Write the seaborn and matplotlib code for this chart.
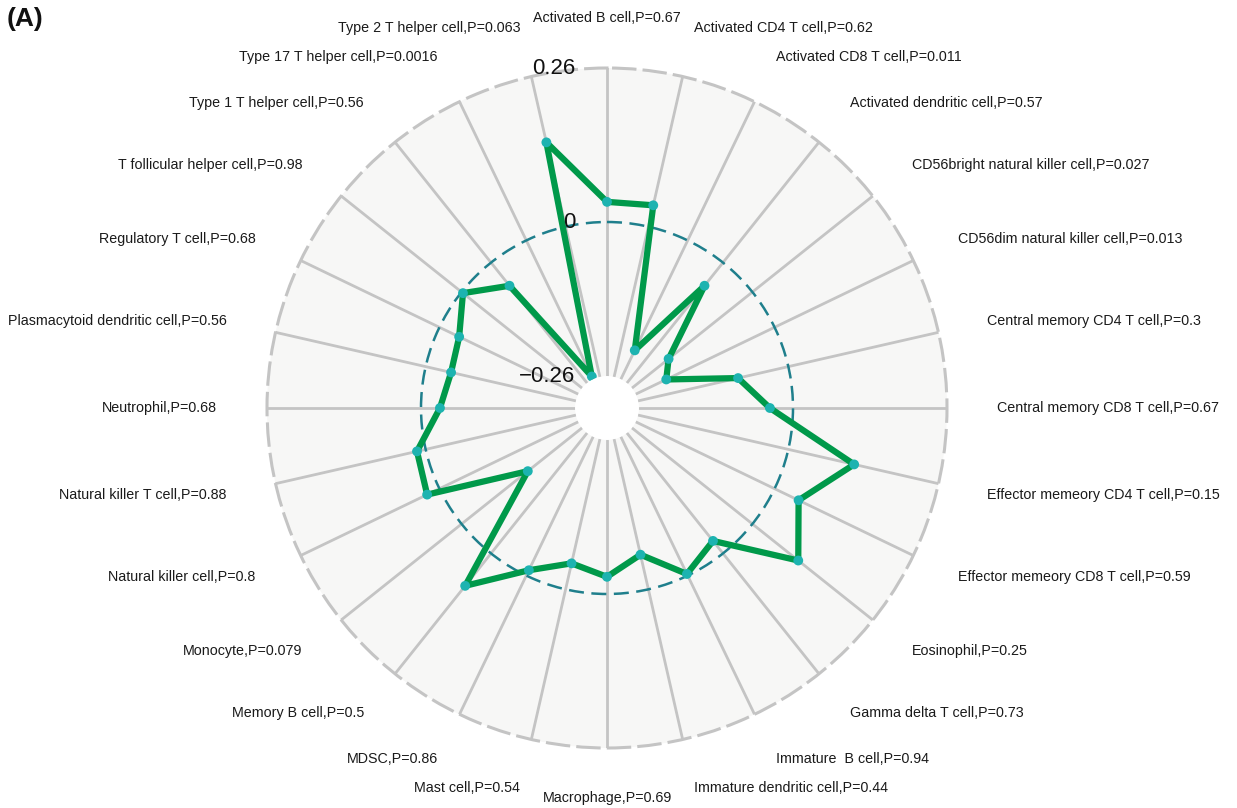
import numpy as np
import pandas as pd
import matplotlib.pyplot as plt
import seaborn as sns

# Категории (по часовой стрелке, начиная сверху) и p-значения
cells = [
    "Activated B cell", "Activated CD4 T cell", "Activated CD8 T cell",
    "Activated dendritic cell", "CD56bright natural killer cell",
    "CD56dim natural killer cell", "Central memory CD4 T cell",
    "Central memory CD8 T cell", "Effector memeory CD4 T cell",
    "Effector memeory CD8 T cell", "Eosinophil", "Gamma delta T cell",
    "Immature  B cell", "Immature dendritic cell", "Macrophage", "Mast cell",
    "MDSC", "Memory B cell", "Monocyte", "Natural killer cell",
    "Natural killer T cell", "Neutrophil", "Plasmacytoid dendritic cell",
    "Regulatory T cell", "T follicular helper cell", "Type 1 T helper cell",
    "Type 17 T helper cell", "Type 2 T helper cell",
]
pvals = [
    "0.67", "0.62", "0.011", "0.57", "0.027", "0.013", "0.3", "0.67",
    "0.15", "0.59", "0.25", "0.73", "0.94", "0.44", "0.69", "0.54",
    "0.86", "0.5", "0.079", "0.8", "0.88", "0.68", "0.56", "0.68",
    "0.98", "0.56", "0.0016", "0.063",
]
# Значения корреляции
values = [
    0.034, 0.037, -0.206, -0.050, -0.181, -0.203, -0.087, -0.039,
    0.114, 0.045, 0.099, -0.027, -0.003, -0.060, -0.029, -0.045,
    -0.010, 0.070, -0.143, 0.023, 0.015, -0.032, -0.044, -0.037,
    -0.003, -0.050, -0.255, 0.146,
]
grid_values = [-0.26, 0, 0.26]
grid_labels = ["\u22120.26", "0", "0.26"]

sns.set_style("white")
plt.rcParams['font.family'] = ['Liberation Sans', 'DejaVu Sans']

n = len(cells)
theta = np.arange(n) * 2 * np.pi / n
df = pd.DataFrame({"theta": theta, "value": values})
df_closed = pd.concat([df, df.iloc[[0]].assign(theta=2 * np.pi)], ignore_index=True)

fig = plt.figure(figsize=(12.37, 8.08), dpi=100)
ax = fig.add_axes([267 / 1237, 60 / 808, 680 / 1237, 680 / 808], projection='polar')
ax.set_theta_zero_location('N')
ax.set_theta_direction(-1)

gmin, gmax = grid_values[0], grid_values[-1]
px_per_unit = (340 - 32) / (gmax - gmin)
ax.set_ylim(gmin, gmax)
ax.set_rorigin(gmin - 32 / px_per_unit)
ax.set_facecolor('#F7F7F6')
ax.patch.set_edgecolor('none')

# Спицы и средний круг через сетку осей
ax.set_xticks(theta)
ax.set_xticklabels([])
ax.set_yticks([grid_values[1]])
ax.set_yticklabels([])
ax.xaxis.grid(True, color='#C4C4C4', linewidth=2.0)
ax.yaxis.grid(True, color='#1F7F8C', linewidth=1.8, linestyle=(0, (6, 3)))
ax.tick_params(length=0)

ax.spines['polar'].set_color('#C4C4C4')
ax.spines['polar'].set_linewidth(2.2)
ax.spines['polar'].set_linestyle((0, (7, 3)))
for sp in ['inner', 'start', 'end']:
    ax.spines[sp].set_visible(False)
    ax.spines[sp].set_linewidth(0)
    ax.spines[sp].set_edgecolor('none')

sns.lineplot(data=df_closed, x="theta", y="value", sort=False, estimator=None,
             color='#00994A', linewidth=4.5, ax=ax)
sns.scatterplot(data=df, x="theta", y="value", color='#1DB3B0', s=50,
                edgecolor='none', zorder=5, ax=ax)
ax.set_xlabel("")
ax.set_ylabel("")

# Подписи категорий
r_lab = ax.get_rorigin() + 390 / px_per_unit
for t, c, p in zip(theta, cells, pvals):
    s = np.sin(t)
    if abs(s) < 1e-6:
        ha = 'center'
    elif s > 0:
        ha = 'left'
    else:
        ha = 'right'
    ax.text(t, r_lab, f"{c},P={p}", ha=ha, va='center', fontsize=10.3,
            color='#1A1A1A', clip_on=False)

# Подписи шкалы
for v, lab in zip(grid_values, grid_labels):
    ax.annotate(lab, xy=(0, v), xytext=(-32, 0), textcoords='offset pixels',
                ha='right', va='center', fontsize=16, color='#111111')

fig.text(7 / 1237, 1 - 19 / 808, "(A)", fontsize=19, fontweight='bold',
         ha='left', va='center', color='#111111')

fig.savefig('out.png', dpi=100)
